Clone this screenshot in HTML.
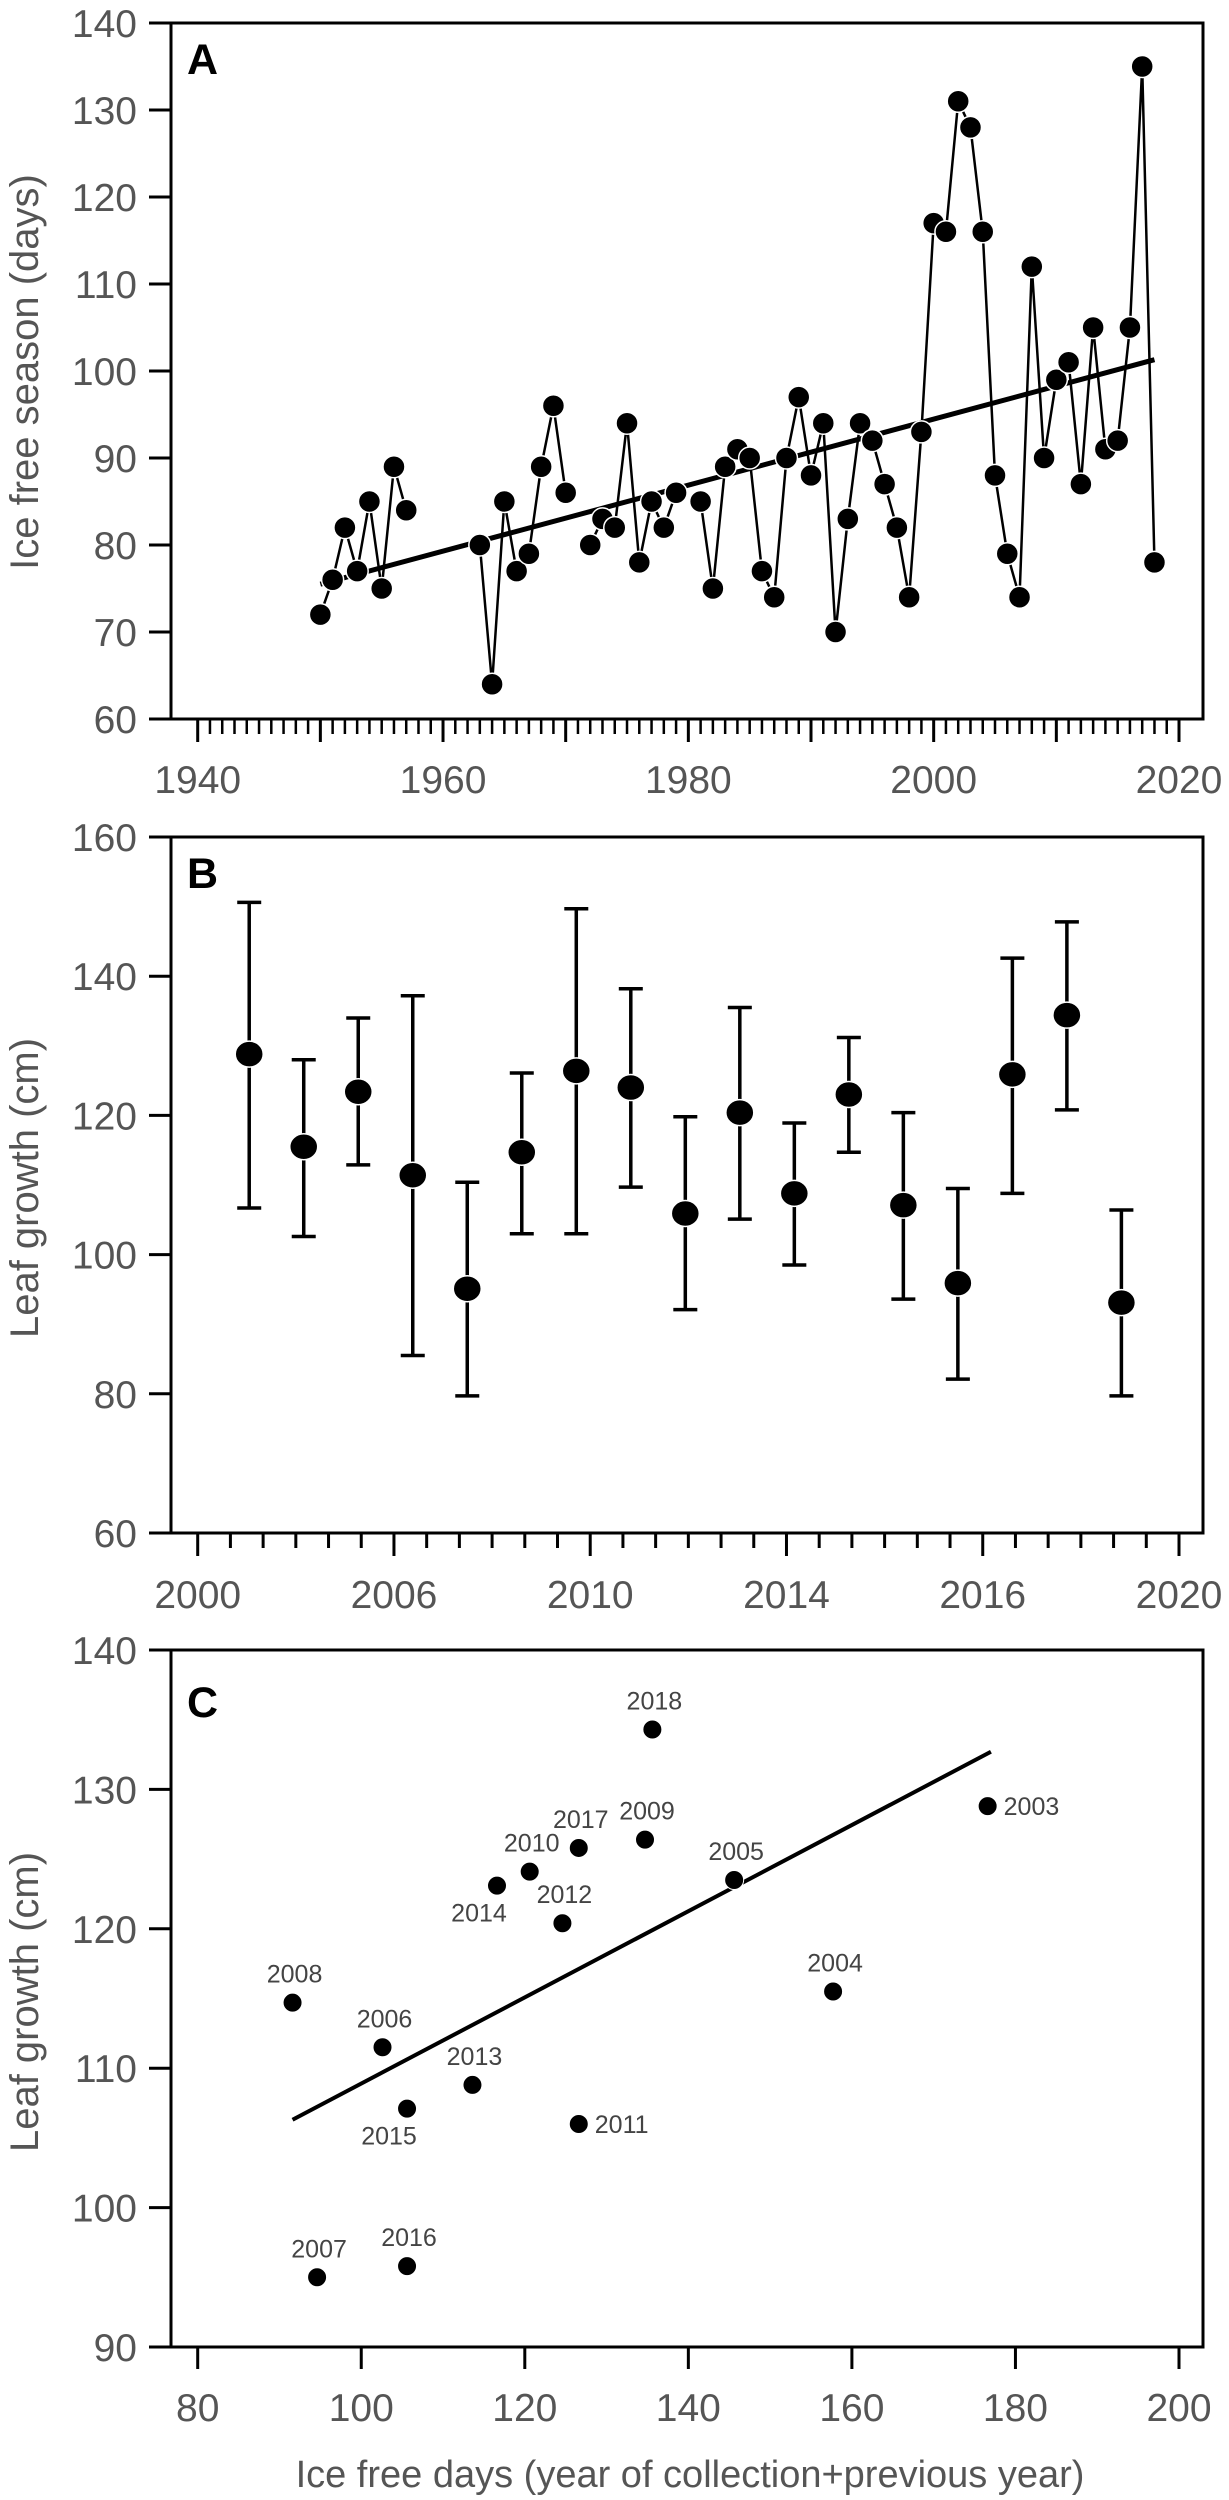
<!DOCTYPE html>
<html><head><meta charset="utf-8"><style>
html,body{margin:0;padding:0;background:#fff}
svg{display:block}
text{font-family:"Liberation Sans",Arial,sans-serif}
</style></head><body>
<svg id="fig" width="1229" height="2500" viewBox="0 0 1229 2500" xmlns="http://www.w3.org/2000/svg"></svg>
<script>
// ---------- Panel A data ----------
const yearsA = [1950,1951,1952,1953,1954,1955,1956,1957,1963,1964,1965,1966,1967,1968,1969,1970,1972,1973,1974,1975,1976,1977,1978,1979,1981,1982,1983,1984,1985,1986,1987,1988,1989,1990,1991,1992,1993,1994,1995,1996,1997,1998,1999,2000,2001,2002,2003,2004,2005,2006,2007,2008,2009,2010,2011,2012,2013,2014,2015,2016,2017,2018];
const iceFree = [72,76,82,77,85,75,89,84,80,64,85,77,79,89,96,86,80,83,82,94,78,85,82,86,85,75,89,91,90,77,74,90,97,88,94,70,83,94,92,87,82,74,93,117,116,131,128,116,88,79,74,112,90,99,101,87,105,91,92,105,135,78];
const trendAYears = [1950,2018];
const trendAVals = [75.5,101.3];
const ticksAY = [60,70,80,90,100,110,120,130,140];
const ticksAXLabels = [1940,1960,1980,2000,2020];
// ---------- Panel B data ----------
const catsB = [0,1,2,3,4,5,6,7,8,9,10,11,12,13,14,15,16];
const meanB = [128.8,115.5,123.4,111.4,95.1,114.7,126.4,124.0,105.9,120.4,108.8,123.0,107.1,95.9,125.9,134.4,93.1];
const hiB = [150.6,128.0,134.0,137.2,110.4,126.1,149.7,138.2,119.8,135.5,118.9,131.2,120.4,109.5,142.6,147.8,106.4];
const loB = [106.7,102.6,112.9,85.5,79.7,103.0,103.0,109.7,92.1,105.1,98.5,114.7,93.6,82.1,108.8,120.8,79.7];
const ticksBY = [60,80,100,120,140,160];
const ticksBXLabels = ["2000","2006","2010","2014","2016","2020"];
// ---------- Panel C data ----------
const labelsC = ["2018","2003","2009","2017","2010","2014","2005","2012","2004","2008","2006","2013","2015","2011","2007","2016"];
const daysC = [135.6,176.6,134.7,126.6,120.6,116.6,145.6,124.6,157.7,91.6,102.6,113.6,105.6,126.6,94.6,105.6];
const growthC = [134.3,128.8,126.4,125.8,124.1,123.1,123.5,120.4,115.5,114.7,111.5,108.8,107.1,106.0,95.0,95.8];
const labelPosC = ["above","right","above","above","above","below","above","above","above","above","above","above","below","right","above","above"];
const trendCX = [91.6,177.0];
const trendCY = [106.3,132.7];
const ticksCY = [90,100,110,120,130,140];
const ticksCX = [80,100,120,140,160,180,200];

const NS="http://www.w3.org/2000/svg";
const svg=document.getElementById('fig');
function el(tag,attrs,parent,txt){const e=document.createElementNS(NS,tag);for(const k in attrs)e.setAttribute(k,attrs[k]);if(txt!==undefined)e.textContent=txt;(parent||svg).appendChild(e);return e;}
const L=171,R=1203;
function lin(d0,d1,r0,r1){return v=>r0+(v-d0)*(r1-r0)/(d1-d0);}

function frame(g,top,bot,name){
  const r=el('rect',{x:L,y:top,width:R-L,height:bot-top,fill:'none',stroke:'#000','stroke-width':3},g);
  
  
}
function yAxis(g,ticks,sy,title,cy,name){
  ticks.forEach(t=>{
    const y=sy(t);
    const ln=el('line',{x1:149,x2:L,y1:y,y2:y,stroke:'#000','stroke-width':3},g);
    
    
    const tx=el('text',{x:137,y:y+14,'text-anchor':'end','font-size':39,fill:'#555'},g,String(t));
    
    
  });
  const tt=el('text',{x:0,y:0,transform:`translate(38,${cy}) rotate(-90)`,'text-anchor':'middle','font-size':40,fill:'#555'},g,title);
  
  
}
function letter(g,y,t,name){
  const tx=el('text',{x:187,y:y,'font-size':43,'font-weight':'bold',fill:'#000'},g,t);
  
  
}

// ===== Panel A =====
const gA=el('g',{});


const sxA=lin(1940,2020,197.7,1179);
const syA=lin(60,140,719,23);
frame(gA,23,719,'panel-a');
yAxis(gA,ticksAY,syA,'Ice free season (days)',372,'panel-a');
letter(gA,74,'A','panel-a');
for(let yr=1940;yr<=2020;yr++){
  const x=sxA(yr),major=yr%10===0;
  const ln=el('line',{x1:x,x2:x,y1:719,y2:major?742:734,stroke:'#000','stroke-width':major?3:2.5},gA);
  
  
}
ticksAXLabels.forEach(t=>{
  const tx=el('text',{x:sxA(t),y:793,'text-anchor':'middle','font-size':39,fill:'#555'},gA,String(t));
  
  
});
// series line segments (break at gaps)
let seg=[];
function flush(){ if(seg.length>1){const p=el('polyline',{points:seg.join(' '),fill:'none',stroke:'#000','stroke-width':2.5},gA);} seg=[]; }
yearsA.forEach((yr,i)=>{ if(i>0 && yr-yearsA[i-1]>1) flush(); seg.push(sxA(yr)+','+syA(iceFree[i])); });
flush();
const tA=el('line',{x1:sxA(trendAYears[0]),y1:syA(trendAVals[0]),x2:sxA(trendAYears[1]),y2:syA(trendAVals[1]),stroke:'#000','stroke-width':5},gA);


yearsA.forEach((yr,i)=>{
  const c=el('circle',{cx:sxA(yr),cy:syA(iceFree[i]),r:11,fill:'#000',stroke:'#fff','stroke-width':1.5},gA);
  
  
});

// ===== Panel B =====
const gB=el('g',{});


const sxB=lin(2000,2020,197.7,1179);
const syB=lin(60,160,1533,837);
const posB=i=>sxB(2001.05+i*1.111);
frame(gB,837,1533,'panel-b');
yAxis(gB,ticksBY,syB,'Leaf growth (cm)',1188,'panel-b');
letter(gB,888,'B','panel-b');
for(let k=0;k<=30;k++){
  const x=197.7+k*(1179-197.7)/30,major=k%6===0;
  const ln=el('line',{x1:x,x2:x,y1:1533,y2:major?1556:1548,stroke:'#000','stroke-width':3},gB);
  
  
}
ticksBXLabels.forEach((t,k)=>{
  const tx=el('text',{x:197.7+k*(1179-197.7)/5,y:1608,'text-anchor':'middle','font-size':39,fill:'#555'},gB,t);
  
  
});
catsB.forEach((c,i)=>{
  const x=posB(c);
  const bar=el('path',{d:`M${x},${syB(loB[i])}V${syB(hiB[i])}M${x-12},${syB(hiB[i])}H${x+12}M${x-12},${syB(loB[i])}H${x+12}`,stroke:'#000','stroke-width':3.5,fill:'none'},gB);
  
  
  const d=el('ellipse',{cx:x,cy:syB(meanB[i]),rx:14,ry:13,fill:'#000',stroke:'#fff','stroke-width':1.5},gB);
  
  
});

// ===== Panel C =====
const gC=el('g',{});


const sxC=lin(80,200,197.7,1179);
const syC=lin(90,140,2347,1650);
frame(gC,1650,2347,'panel-c');
yAxis(gC,ticksCY,syC,'Leaf growth (cm)',2002,'panel-c');
letter(gC,1717,'C','panel-c');
ticksCX.forEach(t=>{
  const x=sxC(t);
  const ln=el('line',{x1:x,x2:x,y1:2347,y2:2369,stroke:'#000','stroke-width':3},gC);
  
  
  const tx=el('text',{x:x,y:2421,'text-anchor':'middle','font-size':39,fill:'#555'},gC,String(t));
  
  
});
const xt=el('text',{x:690,y:2487,'text-anchor':'middle','font-size':38,fill:'#555'},gC,'Ice free days (year of collection+previous year)');


const tC=el('line',{x1:sxC(trendCX[0]),y1:syC(trendCY[0]),x2:sxC(trendCX[1]),y2:syC(trendCY[1]),stroke:'#000','stroke-width':4},gC);


labelsC.forEach((lab,i)=>{
  const x=sxC(daysC[i]),y=syC(growthC[i]);
  const c=el('circle',{cx:x,cy:y,r:9.5,fill:'#000',stroke:'#fff','stroke-width':1},gC);
  
  
  let tx;
  const p=labelPosC[i];
  if(p==='right') tx=el('text',{x:x+16,y:y+9,'font-size':25,fill:'#444'},gC,lab);
  else if(p==='below') tx=el('text',{x:x-18,y:y+36,'text-anchor':'middle','font-size':25,fill:'#444'},gC,lab);
  else tx=el('text',{x:x+2,y:y-20,'text-anchor':'middle','font-size':25,fill:'#444'},gC,lab);
  
  
});
</script>
</body></html>
